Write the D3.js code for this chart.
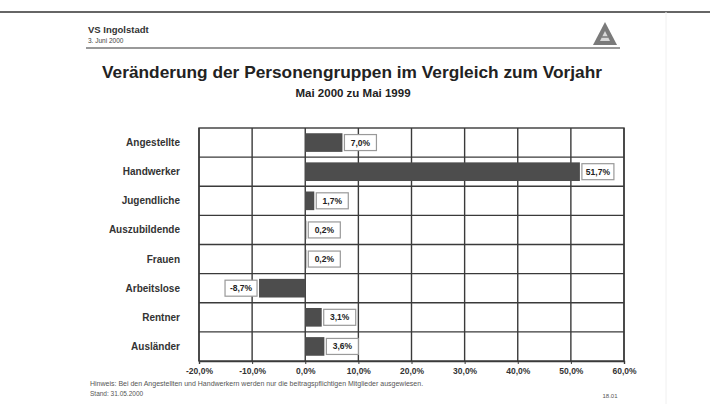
<!DOCTYPE html>
<html>
<head>
<meta charset="utf-8">
<script src="https://cdn.jsdelivr.net/npm/d3@7"></script>
<style>
  body { margin: 0; background: #fff; }
  svg { font-family: Arial, "Liberation Sans", sans-serif; }
</style>
</head>
<body>
<div id="chart"></div>
<script>
// Daten
const categories = ['Angestellte', 'Handwerker', 'Jugendliche', 'Auszubildende', 'Frauen', 'Arbeitslose', 'Rentner', 'Ausländer']
const values = [7.0, 51.7, 1.7, 0.2, 0.2, -8.7, 3.1, 3.6]
const tickValues = [-20, -10, 0, 10, 20, 30, 40, 50, 60]

const fmt = v => d3.format('.1f')(v).replace('.', ',').replace('−', '-') + '%'

const svg = d3.select('#chart').append('svg')
  .attr('width', 710).attr('height', 404)

// Rahmen oben
svg.append('line').attr('x1', 0).attr('x2', 710).attr('y1', 12).attr('y2', 12)
  .attr('stroke', '#333').attr('stroke-width', 1.5)
svg.append('line').attr('x1', 666).attr('x2', 666).attr('y1', 12).attr('y2', 404)
  .attr('stroke', '#f0f0f0').attr('stroke-width', 1)

// Kopfzeile
svg.append('text').attr('x', 88).attr('y', 33).text('VS Ingolstadt')
  .style('font-size', '9.5px').style('font-weight', 'bold').style('fill', '#333')
svg.append('text').attr('x', 88).attr('y', 43).text('3. Juni 2000')
  .style('font-size', '6.5px').style('fill', '#444')
svg.append('line').attr('x1', 86).attr('x2', 620).attr('y1', 48).attr('y2', 48)
  .attr('stroke', '#777').attr('stroke-width', 1.6)

// Logo
const logo = svg.append('g').attr('transform', 'translate(605,34)')
logo.append('path').attr('d', 'M0,-12 L-12,11 L12,11 Z').attr('fill', '#7a7a7a')
logo.append('path').attr('d', 'M0,-3 L-5,7 L5,7 Z').attr('fill', '#d8d8d8')
logo.append('line').attr('x1', -3.5).attr('x2', 3.5).attr('y1', 3).attr('y2', 3).attr('stroke', '#7a7a7a').attr('stroke-width', 1.5)

// Titel
svg.append('text').attr('x', 352).attr('y', 78).attr('text-anchor', 'middle')
  .text('Veränderung der Personengruppen im Vergleich zum Vorjahr')
  .style('font-size', '17.3px').style('font-weight', 'bold').style('fill', '#222')
svg.append('text').attr('x', 353).attr('y', 97).attr('text-anchor', 'middle')
  .text('Mai 2000 zu Mai 1999')
  .style('font-size', '11.5px').style('font-weight', 'bold').style('fill', '#222')

// Diagramm
const margin = { top: 128, left: 199, right: 86, bottom: 43 }
const width = 624 - margin.left
const height = 361 - margin.top

const g = svg.append('g').attr('transform', `translate(${margin.left},${margin.top})`)

const xScale = d3.scaleLinear([-20, 60], [0, width])
const yScale = d3.scaleBand().domain(categories).range([0, height]).paddingInner(0.36).paddingOuter(0.18)
const rowScale = d3.scaleBand().domain(categories).range([0, height])

// Gitter
g.append('g').selectAll('line').data(tickValues).join('line')
  .attr('x1', d => xScale(d)).attr('x2', d => xScale(d))
  .attr('y1', 0).attr('y2', height)
  .attr('stroke', '#3a3a3a').attr('stroke-width', 1.4)
g.append('g').selectAll('line').data(categories.slice(1)).join('line')
  .attr('x1', 0).attr('x2', width)
  .attr('y1', d => rowScale(d)).attr('y2', d => rowScale(d))
  .attr('stroke', '#3a3a3a').attr('stroke-width', 1.4)
g.append('rect').attr('x', 0).attr('y', 0).attr('width', width).attr('height', height)
  .attr('fill', 'none').attr('stroke', '#3a3a3a').attr('stroke-width', 1.4)

// x-Achse
const xAxis = d3.axisBottom(xScale).tickValues(tickValues).tickFormat(fmt).tickSize(3).tickPadding(4)
const xAxisDraw = g.append('g').attr('transform', `translate(0,${height})`).call(xAxis)
xAxisDraw.select('.domain').attr('stroke', '#3a3a3a').attr('stroke-width', 1.4)
xAxisDraw.selectAll('.tick line').attr('stroke', '#3a3a3a')
xAxisDraw.selectAll('text').style('font-size', '8.5px').style('font-weight', 'bold')
  .style('font-family', 'Arial, "Liberation Sans", sans-serif').style('fill', '#333')

// Kategorien
g.append('g').selectAll('text').data(categories).join('text')
  .attr('x', -19).attr('y', d => rowScale(d) + rowScale.bandwidth() / 2 + 3.5)
  .attr('text-anchor', 'end').text(d => d)
  .style('font-size', '10px').style('font-weight', 'bold').style('fill', '#333')

const data = categories.map((c, i) => ({ cat: c, val: values[i] }))

// Balken
g.append('g').selectAll('rect').data(data).join('rect')
  .attr('x', d => xScale(Math.min(0, d.val)))
  .attr('y', d => yScale(d.cat))
  .attr('width', d => Math.abs(xScale(d.val) - xScale(0)))
  .attr('height', yScale.bandwidth())
  .attr('fill', '#4d4d4d')

// Wertelabels
const labels = g.append('g').selectAll('g').data(data).join('g')
  .attr('transform', d => {
    const x = d.val >= 0 ? xScale(d.val) + 2 : xScale(d.val) - 34
    return `translate(${x},${yScale(d.cat) + yScale.bandwidth() / 2 - 8})`
  })
labels.append('rect').attr('width', 32).attr('height', 16)
  .attr('fill', '#fff').attr('stroke', '#999').attr('stroke-width', 1.2)
labels.append('text').attr('x', 16).attr('y', 11).attr('text-anchor', 'middle')
  .text(d => fmt(d.val))
  .style('font-size', '8.5px').style('font-weight', 'bold').style('fill', '#222')

// Fußzeile
svg.append('text').attr('x', 90).attr('y', 386)
  .text('Hinweis: Bei den Angestellten und Handwerkern werden nur die beitragspflichtigen Mitglieder ausgewiesen.')
  .style('font-size', '7px').style('fill', '#555')
svg.append('text').attr('x', 90).attr('y', 396)
  .text('Stand: 31.05.2000')
  .style('font-size', '6.5px').style('fill', '#555')
svg.append('text').attr('x', 610).attr('y', 398).attr('text-anchor', 'middle')
  .text('18.01')
  .style('font-size', '6px').style('fill', '#555')
</script>
</body>
</html>
